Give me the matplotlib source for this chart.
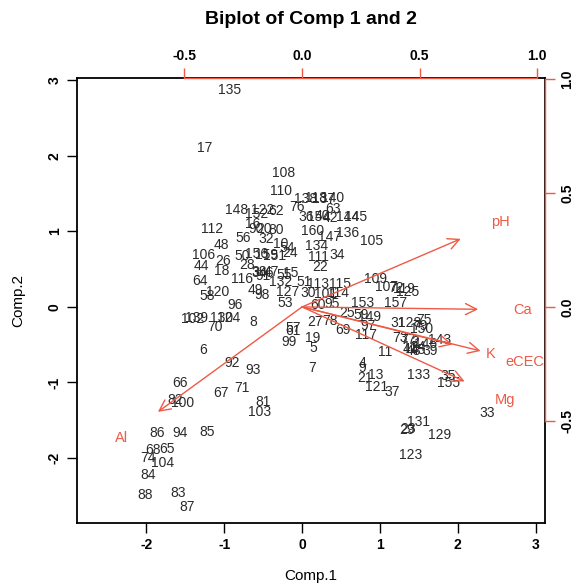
import matplotlib
matplotlib.use('Agg')
import matplotlib.pyplot as plt

plt.rcParams['font.family'] = ['Liberation Sans', 'DejaVu Sans']
plt.rcParams['axes.unicode_minus'] = False

# Scores (Comp.1, Comp.2) with their row labels
labels = [135, 17, 108, 110, 148, 152, 122, 62, 76, 138, 118, 137, 140, 63, 36, 154,
          40, 42, 144, 145, 112, 16, 90, 20, 80, 160, 147, 136, 105, 56, 32, 10, 54,
          48, 134, 106, 50, 156, 159, 151, 24, 111, 34, 26, 44, 18, 28, 22, 3, 38, 91,
          46, 47, 55, 15, 109, 116, 64, 132, 51, 113, 115, 107, 72, 119, 125, 49, 120,
          127, 30, 101, 114, 98, 58, 53, 153, 157, 96, 60, 95, 25, 59, 149, 97, 102,
          139, 130, 124, 70, 8, 57, 61, 27, 78, 69, 117, 31, 128, 75, 79, 150, 73, 77,
          2, 146, 143, 12, 14, 41, 45, 43, 39, 99, 19, 5, 11, 6, 92, 4, 9, 7, 93, 13,
          133, 35, 155, 21, 121, 37, 66, 71, 67, 82, 100, 81, 103, 33, 131, 29, 23,
          129, 86, 94, 85, 68, 65, 74, 104, 123, 84, 88, 83, 87]
comp1 = [-0.93, -1.25, -0.24, -0.27, -0.84, -0.58, -0.51, -0.33, -0.06, 0.04, 0.18, 0.28,
         0.39, 0.40, 0.05, 0.21, 0.26, 0.37, 0.58, 0.69, -1.16, -0.63, -0.59, -0.49,
         -0.33, 0.13, 0.35, 0.58, 0.89, -0.76, -0.46, -0.28, -0.19, -1.03, 0.19, -1.27,
         -0.77, -0.59, -0.46, -0.35, -0.15, 0.21, 0.45, -1.02, -1.29, -1.03, -0.71, 0.23,
         -0.60, -0.55, -0.50, -0.46, -0.40, -0.23, -0.14, 0.94, -0.77, -1.31, -0.27, 0.03,
         0.21, 0.49, 1.08, 1.21, 1.31, 1.36, -0.60, -1.08, -0.18, 0.08, 0.30, 0.46, -0.51,
         -1.22, -0.22, 0.78, 1.20, -0.86, 0.21, 0.39, 0.58, 0.76, 0.87, 0.85, -1.40,
         -1.35, -1.03, -0.94, -1.12, -0.63, -0.12, -0.12, 0.17, 0.36, 0.53, 0.82, 1.23,
         1.38, 1.56, 1.52, 1.54, 1.26, 1.36, 1.45, 1.58, 1.77, 1.39, 1.48, 1.39, 1.49,
         1.43, 1.65, -0.17, 0.14, 0.15, 1.07, -1.27, -0.90, 0.77, 0.77, 0.13, -0.63, 0.94,
         1.49, 1.88, 1.88, 0.81, 0.96, 1.16, -1.57, -0.77, -1.04, -1.63, -1.53, -0.50,
         -0.54, 2.38, 1.49, 1.35, 1.36, 1.77, -1.86, -1.57, -1.22, -1.92, -1.74, -1.98,
         -1.79, 1.39, -1.98, -2.02, -1.59, -1.48]
comp2 = [2.87, 2.10, 1.77, 1.53, 1.28, 1.23, 1.28, 1.27, 1.32, 1.43, 1.44, 1.43, 1.44,
         1.30, 1.19, 1.19, 1.20, 1.18, 1.19, 1.19, 1.03, 1.10, 1.03, 1.03, 1.02, 1.01,
         0.93, 0.98, 0.87, 0.91, 0.90, 0.83, 0.78, 0.82, 0.81, 0.69, 0.68, 0.70, 0.69,
         0.68, 0.71, 0.66, 0.69, 0.61, 0.54, 0.48, 0.56, 0.53, 0.45, 0.46, 0.41, 0.45,
         0.46, 0.42, 0.45, 0.37, 0.37, 0.34, 0.33, 0.33, 0.30, 0.30, 0.27, 0.25, 0.24,
         0.20, 0.23, 0.20, 0.20, 0.19, 0.17, 0.19, 0.16, 0.15, 0.05, 0.05, 0.05, 0.03,
         0.03, 0.04, -0.08, -0.11, -0.13, -0.25, -0.16, -0.15, -0.15, -0.15, -0.27, -0.20,
         -0.28, -0.32, -0.20, -0.19, -0.30, -0.37, -0.21, -0.21, -0.17, -0.25, -0.29,
         -0.41, -0.44, -0.46, -0.49, -0.44, -0.53, -0.53, -0.56, -0.57, -0.58, -0.58,
         -0.46, -0.41, -0.54, -0.60, -0.57, -0.74, -0.74, -0.81, -0.81, -0.83, -0.90,
         -0.90, -0.91, -1.01, -0.94, -1.06, -1.12, -1.01, -1.07, -1.14, -1.23, -1.27,
         -1.26, -1.39, -1.40, -1.52, -1.63, -1.61, -1.69, -1.67, -1.67, -1.65, -1.89,
         -1.88, -2.00, -2.06, -1.96, -2.22, -2.49, -2.46, -2.65]

# Loadings (variables), in the top/right axis units
variables = ['pH', 'Ca', 'K', 'eCEC', 'Mg', 'Al']
load1 = [0.843, 0.936, 0.800, 0.949, 0.864, -0.766]
load2 = [0.373, -0.013, -0.206, -0.241, -0.408, -0.575]

red = '#EE5A45'
ratio = 3.02
xlim = (-2.89, 3.12)
ylim = (-2.86, 3.03)

fig = plt.figure(figsize=(5.85, 5.88), dpi=100)
pos = [77/585, 1-523/588, 468/585, 445/588]
ax = fig.add_axes(pos)
ax.set_xlim(xlim)
ax.set_ylim(ylim)
for lab, x, y in zip(labels, comp1, comp2):
    ax.text(x, y, str(lab), ha='center', va='center', fontsize=10,
            color='#2a2a2a', clip_on=True)
ax.set_xticks(range(-2, 4))
ax.set_yticks(range(-2, 4))
ax.tick_params(direction='out', length=7, width=1, labelsize=10, pad=4)
for t in ax.get_xticklabels() + ax.get_yticklabels():
    t.set_fontweight('bold')
for t in ax.get_yticklabels():
    t.set_rotation(90)
    t.set_va('center')
for s in ax.spines.values():
    s.set_linewidth(1.3)
ax.set_xlabel('Comp.1', fontsize=11, labelpad=12)
ax.set_ylabel('Comp.2', fontsize=11, labelpad=16)

# second axes for the loadings
ax2 = fig.add_axes(pos, facecolor='none')
ax2.set_xlim(xlim[0]/ratio, xlim[1]/ratio)
ax2.set_ylim(ylim[0]/ratio, ylim[1]/ratio)
ax2.xaxis.tick_top()
ax2.yaxis.tick_right()
ax2.set_xticks([-0.5, 0.0, 0.5, 1.0])
ax2.set_yticks([-0.5, 0.0, 0.5, 1.0])
ax2.set_xticklabels(['-0.5', '0.0', '0.5', '1.0'])
ax2.set_yticklabels(['-0.5', '0.0', '0.5', '1.0'])
ax2.tick_params(direction='out', length=7, width=1, color=red,
                labelcolor='black', labelsize=10, pad=4)
for t in ax2.get_xticklabels() + ax2.get_yticklabels():
    t.set_fontweight('bold')
for t in ax2.get_yticklabels():
    t.set_rotation(90)
    t.set_va('center')
ax2.spines['left'].set_visible(False)
ax2.spines['bottom'].set_visible(False)
for side in ['top', 'right']:
    ax2.spines[side].set_color(red)
    ax2.spines[side].set_linewidth(1)
    ax2.spines[side].set_bounds(-0.5, 1.0)

for name, lx, ly in zip(variables, load1, load2):
    ax2.annotate('', xy=(0.8*lx, 0.8*ly), xytext=(0, 0),
                 arrowprops=dict(arrowstyle='->,head_length=0.8,head_width=0.4',
                                 color=red, lw=1, shrinkA=0, shrinkB=0))
    ax2.text(lx, ly, name, ha='center', va='center', fontsize=10.5,
             color=red, clip_on=True)

fig.text(311/585, 1-19/588, 'Biplot of Comp 1 and 2', ha='center', va='center',
         fontsize=14, fontweight='bold')

fig.savefig('out.png', dpi=100)
